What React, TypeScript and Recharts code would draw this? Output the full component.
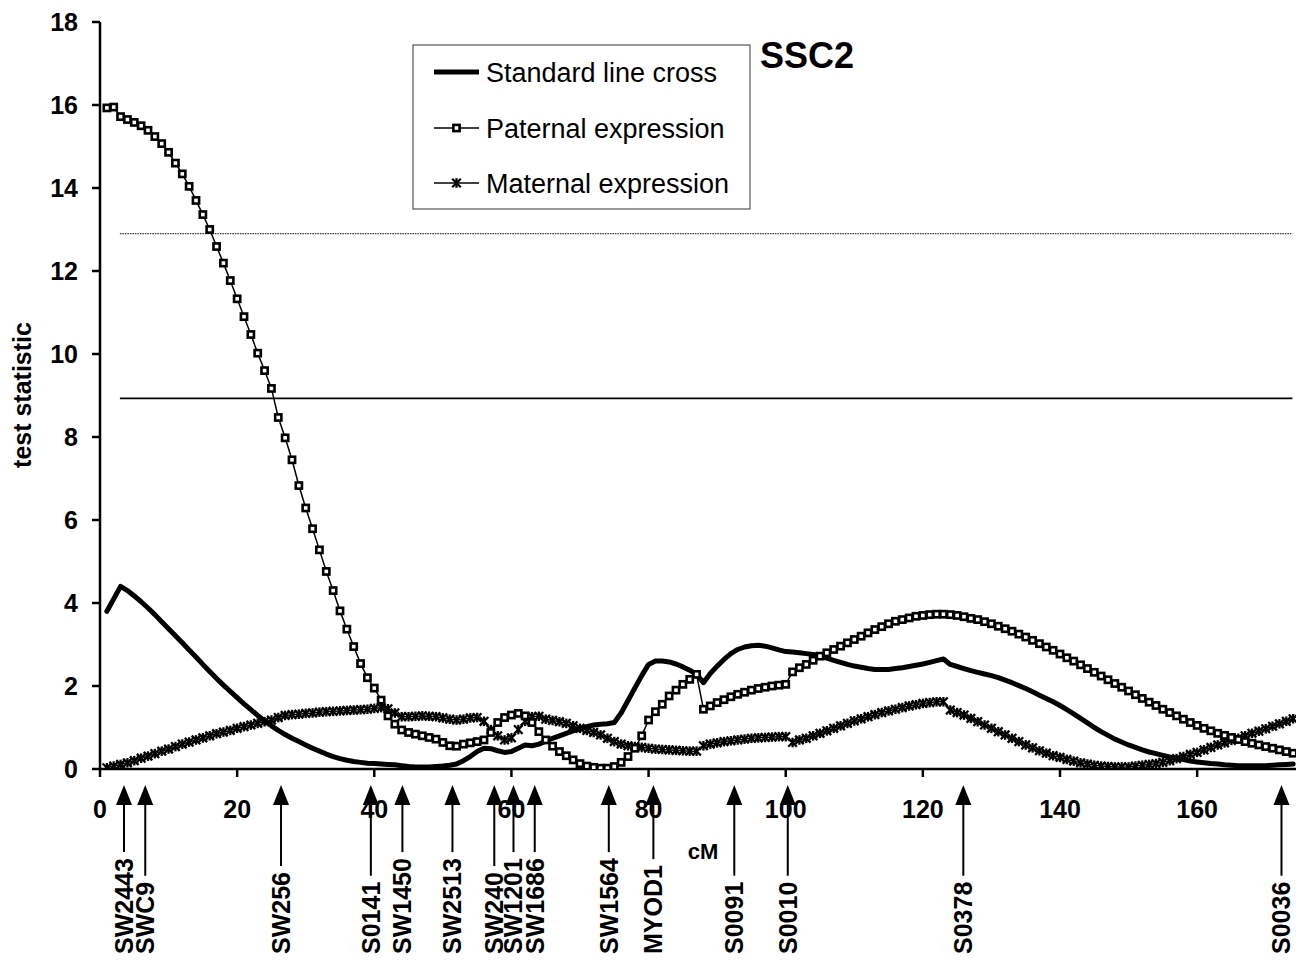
import React from 'react';
import { LineChart, Line, XAxis, YAxis, ReferenceLine } from 'recharts';

const FONT = "'Liberation Sans', Arial, Helvetica, sans-serif";

const CM_POSITIONS = [
  1, 2, 3, 4, 5, 6, 7, 8, 9, 10, 11, 12, 13, 14, 15, 16, 17, 18, 19, 20,
  21, 22, 23, 24, 25, 26, 27, 28, 29, 30, 31, 32, 33, 34, 35, 36, 37, 38, 39, 40,
  41, 42, 43, 44, 45, 46, 47, 48, 49, 50, 51, 52, 53, 54, 55, 56, 57, 58, 59, 60,
  61, 62, 63, 64, 65, 66, 67, 68, 69, 70, 71, 72, 73, 74, 75, 76, 77, 78, 79, 80,
  81, 82, 83, 84, 85, 86, 87, 88, 89, 90, 91, 92, 93, 94, 95, 96, 97, 98, 99, 100,
  101, 102, 103, 104, 105, 106, 107, 108, 109, 110, 111, 112, 113, 114, 115, 116, 117, 118, 119, 120,
  121, 122, 123, 124, 125, 126, 127, 128, 129, 130, 131, 132, 133, 134, 135, 136, 137, 138, 139, 140,
  141, 142, 143, 144, 145, 146, 147, 148, 149, 150, 151, 152, 153, 154, 155, 156, 157, 158, 159, 160,
  161, 162, 163, 164, 165, 166, 167, 168, 169, 170, 171, 172, 173, 174,
];

const STANDARD_LINE_CROSS = [
  3.8, 4.1, 4.4, 4.3, 4.17, 4.03, 3.88, 3.72, 3.55, 3.38,
  3.21, 3.04, 2.87, 2.7, 2.52, 2.35, 2.18, 2.02, 1.87, 1.72,
  1.57, 1.43, 1.29, 1.16, 1.04, 0.93, 0.83, 0.74, 0.66, 0.58,
  0.5, 0.43, 0.36, 0.3, 0.25, 0.21, 0.18, 0.16, 0.14, 0.13,
  0.12, 0.11, 0.1, 0.08, 0.06, 0.05, 0.05, 0.05, 0.06, 0.07,
  0.09, 0.12, 0.2, 0.3, 0.42, 0.5, 0.49, 0.44, 0.4, 0.42,
  0.5, 0.58, 0.56, 0.6, 0.67, 0.74, 0.8, 0.86, 0.92, 0.97,
  1.02, 1.06, 1.08, 1.09, 1.12, 1.35, 1.65, 1.95, 2.25, 2.52,
  2.6, 2.6, 2.58, 2.53, 2.46, 2.38, 2.28, 2.08, 2.3, 2.48,
  2.64, 2.78, 2.88, 2.94, 2.97, 2.98, 2.96, 2.92, 2.87, 2.83,
  2.82, 2.8, 2.78, 2.76, 2.72, 2.67, 2.62, 2.57, 2.52, 2.48,
  2.45, 2.42, 2.4, 2.4, 2.4, 2.42, 2.44, 2.47, 2.5, 2.53,
  2.57, 2.61, 2.65, 2.52, 2.47, 2.42, 2.37, 2.33, 2.29, 2.25,
  2.2, 2.14, 2.08, 2.01, 1.94, 1.86, 1.78, 1.7, 1.62, 1.53,
  1.43, 1.33, 1.22, 1.11, 1.0, 0.9, 0.81, 0.72, 0.65, 0.58,
  0.52, 0.46, 0.41, 0.37, 0.33, 0.29, 0.26, 0.23, 0.19, 0.17,
  0.15, 0.13, 0.12, 0.1, 0.09, 0.08, 0.08, 0.08, 0.08, 0.08,
  0.09, 0.1, 0.11, 0.12,
];

const PATERNAL_EXPRESSION = [
  15.93, 15.95, 15.72, 15.65, 15.58, 15.5, 15.39, 15.24, 15.07, 14.86,
  14.6, 14.34, 14.04, 13.7, 13.36, 13.0, 12.59, 12.19, 11.77, 11.33,
  10.9, 10.47, 10.02, 9.6, 9.17, 8.47, 7.98, 7.45, 6.83, 6.29,
  5.79, 5.28, 4.76, 4.3, 3.81, 3.37, 2.95, 2.54, 2.2, 1.95,
  1.66, 1.28, 1.08, 0.94, 0.88, 0.84, 0.8, 0.76, 0.72, 0.64,
  0.56, 0.55, 0.6, 0.63, 0.66, 0.7, 0.88, 1.12, 1.24, 1.3,
  1.34, 1.28, 1.12, 0.9, 0.7, 0.55, 0.42, 0.32, 0.22, 0.13,
  0.07, 0.04, 0.02, 0.02, 0.06, 0.16, 0.3, 0.5, 0.8, 1.18,
  1.38, 1.56, 1.76, 1.9, 2.04, 2.16, 2.28, 1.44, 1.52, 1.6,
  1.67, 1.74, 1.8, 1.85, 1.9, 1.94, 1.97, 2.0, 2.02, 2.04,
  2.34, 2.44, 2.52, 2.62, 2.72, 2.8, 2.88, 2.96, 3.04, 3.12,
  3.2, 3.28, 3.36, 3.43, 3.5, 3.56, 3.6, 3.64, 3.68, 3.7,
  3.72, 3.73, 3.73, 3.72, 3.7, 3.67, 3.63, 3.6, 3.55, 3.5,
  3.44, 3.38, 3.32, 3.25, 3.18, 3.1, 3.02, 2.94, 2.86, 2.77,
  2.68, 2.6, 2.51, 2.42, 2.33, 2.24, 2.15, 2.06, 1.97, 1.88,
  1.79, 1.7, 1.61, 1.53, 1.44, 1.36, 1.28, 1.2, 1.12, 1.05,
  0.98, 0.92, 0.86, 0.81, 0.76, 0.71, 0.66, 0.62, 0.58, 0.54,
  0.5, 0.46, 0.42, 0.38,
];

const MATERNAL_EXPRESSION = [
  0.03, 0.07, 0.11, 0.15, 0.2, 0.26, 0.31, 0.37, 0.43, 0.48,
  0.54, 0.6, 0.65, 0.7, 0.75, 0.8, 0.85, 0.89, 0.93, 0.98,
  1.02, 1.06, 1.1, 1.14, 1.18, 1.24, 1.29, 1.31, 1.32, 1.34,
  1.35, 1.37, 1.38, 1.39, 1.4, 1.41, 1.42, 1.43, 1.44, 1.46,
  1.48, 1.45, 1.35, 1.26, 1.26, 1.27, 1.28, 1.27, 1.26, 1.23,
  1.2, 1.18, 1.2, 1.23, 1.24, 1.15, 0.95, 0.8, 0.7, 0.75,
  0.95, 1.15, 1.26, 1.27, 1.2, 1.17, 1.14, 1.1, 1.04, 0.98,
  0.93, 0.88, 0.82, 0.74, 0.66, 0.6, 0.56, 0.54, 0.52, 0.5,
  0.48, 0.47, 0.46, 0.45, 0.44, 0.43, 0.43, 0.56, 0.6, 0.63,
  0.66, 0.68, 0.7, 0.72, 0.74, 0.75, 0.76, 0.77, 0.78, 0.78,
  0.64, 0.7, 0.74, 0.8, 0.86, 0.92, 0.98, 1.04, 1.1, 1.16,
  1.21, 1.26, 1.31, 1.36, 1.4, 1.44, 1.48, 1.52, 1.55, 1.58,
  1.6, 1.62, 1.62, 1.42, 1.36, 1.3, 1.22, 1.14, 1.06, 0.98,
  0.9, 0.82, 0.74, 0.66, 0.58, 0.51, 0.44, 0.38, 0.32, 0.28,
  0.23, 0.19, 0.15, 0.12, 0.09, 0.07, 0.06, 0.05, 0.05, 0.05,
  0.07, 0.09, 0.11, 0.13, 0.16, 0.2, 0.25, 0.3, 0.35, 0.4,
  0.46, 0.52, 0.58, 0.63, 0.69, 0.74, 0.8, 0.86, 0.91, 0.97,
  1.03, 1.09, 1.15, 1.21,
];

const X_TICKS = [0, 20, 40, 60, 80, 100, 120, 140, 160];
const Y_TICKS = [0, 2, 4, 6, 8, 10, 12, 14, 16, 18];

const MARKER_NAMES = [
  'SW2443', 'SWC9', 'SW256', 'S0141', 'SW1450', 'SW2513', 'SW240', 'SW1201',
  'SW1686', 'SW1564', 'MYOD1', 'S0091', 'S0010', 'S0378', 'S0036',
];
const MARKER_CM = [3.5, 6.6, 26.4, 39.5, 44.1, 51.4, 57.5, 60.3, 63.4, 74.2, 80.7, 92.5, 100.3, 125.9, 172.3];

const THRESHOLD_DOTTED = 12.9;
const THRESHOLD_SOLID = 8.93;
const THRESHOLD_CM_RANGE = [2.9, 173.9];

const SERIES_NAMES = ['Standard line cross', 'Paternal expression', 'Maternal expression'];

const rows = CM_POSITIONS.map((cm, i) => ({
  cm,
  standard: STANDARD_LINE_CROSS[i],
  paternal: PATERNAL_EXPRESSION[i],
  maternal: MATERNAL_EXPRESSION[i],
}));

const SquareDot = (props: any) => {
  const { cx, cy, index } = props;
  if (cx == null || cy == null) return <g key={`p-${index}`} />;
  return (
    <rect key={`p-${index}`} x={cx - 3.1} y={cy - 3.1} width={6.2} height={6.2}
      fill="#fff" stroke="#000" strokeWidth={2.6} />
  );
};

const StarDot = (props: any) => {
  const { cx, cy, index } = props;
  if (cx == null || cy == null) return <g key={`m-${index}`} />;
  const r = 4.3;
  return (
    <g key={`m-${index}`} stroke="#000" strokeWidth={2.3}>
      <line x1={cx - r} y1={cy - r} x2={cx + r} y2={cy + r} />
      <line x1={cx - r} y1={cy + r} x2={cx + r} y2={cy - r} />
      <line x1={cx} y1={cy - r - 0.5} x2={cx} y2={cy + r + 0.5} />
    </g>
  );
};

let measureCtx: CanvasRenderingContext2D | null = null;
const measure = (text: string, font: string) => {
  if (typeof document === 'undefined') return text.length * 15;
  if (!measureCtx) measureCtx = document.createElement('canvas').getContext('2d');
  if (!measureCtx) return text.length * 15;
  measureCtx.font = font;
  return measureCtx.measureText(text).width;
};

const MARKER_FONT_SIZE = 25;

const MarkerTick = (props: any) => {
  const { x, y, payload } = props;
  const idx = MARKER_CM.indexOf(payload.value);
  const name = idx >= 0 ? MARKER_NAMES[idx] : '';
  const tipY = y - 24;
  const headBase = tipY + 20;
  const labelBottom = y + 145;
  const w = measure(name, `bold ${MARKER_FONT_SIZE}px 'Liberation Sans'`);
  const shaftEnd = labelBottom - w - 6;
  return (
    <g>
      <polygon points={`${x},${tipY} ${x - 8},${headBase} ${x + 8},${headBase}`} fill="#000" />
      <line x1={x} y1={headBase - 1} x2={x} y2={shaftEnd} stroke="#000" strokeWidth={2} />
      <text
        transform={`translate(${x + 9}, ${labelBottom}) rotate(-90)`}
        textAnchor="start"
        fontFamily={FONT}
        fontWeight="bold"
        fontSize={MARKER_FONT_SIZE}
        fill="#000"
      >
        {name}
      </text>
    </g>
  );
};

const axisTickStyle = { fill: '#000', fontSize: 25, fontWeight: 'bold', fontFamily: FONT } as any;

export default function App() {
  return (
    <div style={{ position: 'relative', width: 1296, height: 958, fontFamily: FONT, background: '#fff' }}>
      <LineChart width={1296} height={958} data={rows} margin={{ top: 14, right: 4, left: 30, bottom: 7 }}>
        <XAxis
          xAxisId="cm"
          dataKey="cm"
          type="number"
          domain={[0, 175]}
          allowDataOverflow
          ticks={X_TICKS}
          interval={0}
          height={40}
          tickSize={8}
          tickMargin={23}
          axisLine={{ stroke: '#000', strokeWidth: 2.5 }}
          tickLine={{ stroke: '#000', strokeWidth: 2.5 }}
          tick={axisTickStyle}
        />
        <XAxis
          xAxisId="markers"
          dataKey="cm"
          type="number"
          domain={[0, 175]}
          allowDataOverflow
          ticks={MARKER_CM}
          interval={0}
          height={150}
          tickSize={0}
          tickMargin={0}
          axisLine={false}
          tickLine={false}
          tick={<MarkerTick />}
        />
        <YAxis
          type="number"
          domain={[0, 18]}
          allowDataOverflow
          ticks={Y_TICKS}
          interval={0}
          width={62}
          tickSize={8}
          tickMargin={14}
          axisLine={{ stroke: '#000', strokeWidth: 2.5 }}
          tickLine={{ stroke: '#000', strokeWidth: 2.5 }}
          tick={axisTickStyle}
        />
        <ReferenceLine
          xAxisId="cm"
          segment={[{ x: THRESHOLD_CM_RANGE[0], y: THRESHOLD_DOTTED }, { x: THRESHOLD_CM_RANGE[1], y: THRESHOLD_DOTTED }]}
          stroke="#333"
          strokeWidth={1.2}
          strokeDasharray="1.5 1"
        />
        <ReferenceLine
          xAxisId="cm"
          segment={[{ x: THRESHOLD_CM_RANGE[0], y: THRESHOLD_SOLID }, { x: THRESHOLD_CM_RANGE[1], y: THRESHOLD_SOLID }]}
          stroke="#000"
          strokeWidth={1.6}
        />
        <Line
          xAxisId="cm"
          type="linear"
          dataKey="maternal"
          name={SERIES_NAMES[2]}
          stroke="#000"
          strokeWidth={1.5}
          dot={(p: any) => <StarDot {...p} key={`m-${p.index}`} />}
          activeDot={false}
          isAnimationActive={false}
        />
        <Line
          xAxisId="cm"
          type="linear"
          dataKey="paternal"
          name={SERIES_NAMES[1]}
          stroke="#000"
          strokeWidth={1.5}
          dot={(p: any) => <SquareDot {...p} key={`p-${p.index}`} />}
          activeDot={false}
          isAnimationActive={false}
        />
        <Line
          xAxisId="cm"
          type="linear"
          dataKey="standard"
          name={SERIES_NAMES[0]}
          stroke="#000"
          strokeWidth={5}
          strokeLinejoin="round"
          strokeLinecap="round"
          dot={false}
          activeDot={false}
          isAnimationActive={false}
        />
      </LineChart>
      <svg width={1296} height={958} style={{ position: 'absolute', left: 0, top: 0, pointerEvents: 'none' }}>
        <text x={752} y={60} fontFamily={FONT} fontWeight="bold" fontSize={36} fill="#000">SSC2</text>
        <text
          transform="translate(23, 387) rotate(-90)"
          textAnchor="middle"
          fontFamily={FONT}
          fontWeight="bold"
          fontSize={25}
          fill="#000"
        >
          test statistic
        </text>
        <text x={695} y={851} textAnchor="middle" fontFamily={FONT} fontWeight="bold" fontSize={22} fill="#000">cM</text>
        <g>
          <rect x={405} y={37} width={337} height={164} fill="#fff" stroke="#555" strokeWidth={1.2} />
          <line x1={426} y1={64} x2={471} y2={64} stroke="#000" strokeWidth={5} />
          <text x={478} y={74} fontFamily={FONT} fontSize={27} fill="#000">{SERIES_NAMES[0]}</text>
          <line x1={426} y1={120} x2={471} y2={120} stroke="#000" strokeWidth={1.5} />
          <SquareDot cx={448.5} cy={120} index={-1} />
          <text x={478} y={130} fontFamily={FONT} fontSize={27} fill="#000">{SERIES_NAMES[1]}</text>
          <line x1={426} y1={175} x2={471} y2={175} stroke="#000" strokeWidth={1.5} />
          <StarDot cx={448.5} cy={175} index={-2} />
          <text x={478} y={185} fontFamily={FONT} fontSize={27} fill="#000">{SERIES_NAMES[2]}</text>
        </g>
      </svg>
    </div>
  );
}
